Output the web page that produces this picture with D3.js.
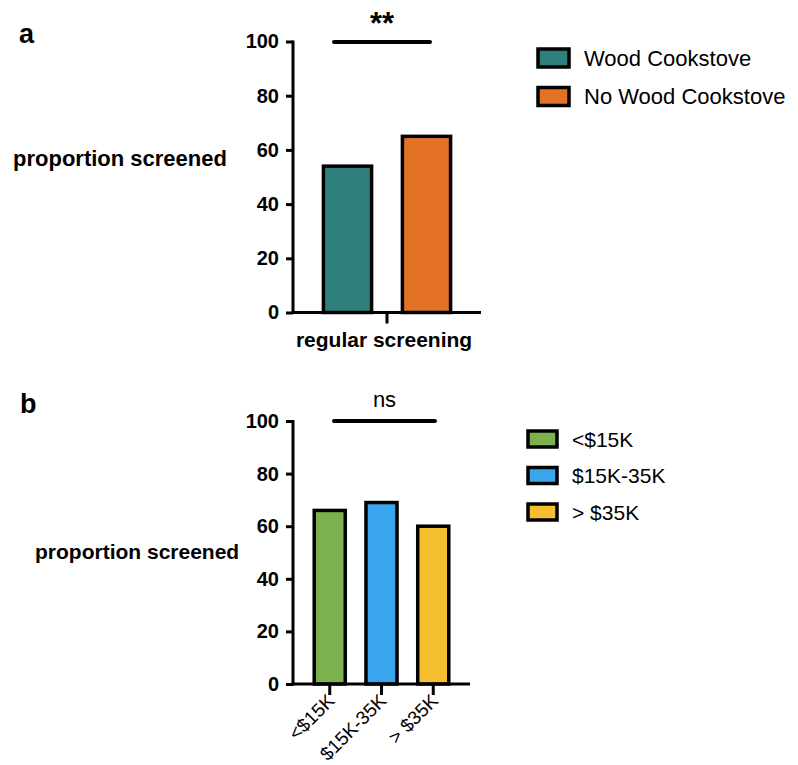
<!DOCTYPE html>
<html>
<head>
<meta charset="utf-8">
<script src="https://cdn.jsdelivr.net/npm/d3@7"></script>
<style>
  body { margin: 0; background: #fff; }
  svg { display: block; font-family: "Liberation Sans", Arial, Helvetica, sans-serif; }
</style>
</head>
<body>
<div id="chart"></div>
<script>
// panel a data
const aCategories = ["regular screening"];
const aSeries = ["Wood Cookstove", "No Wood Cookstove"];
const aValues = [54, 65];
const aColors = ["#2f7f7d", "#e37227"];
const aSignif = "**";

// panel b data
const bCategories = ["<$15K", "$15K-35K", "> $35K"];
const bValues = [66, 69, 60];
const bColors = ["#7bb14f", "#3aa5ec", "#f5bf30"];
const bSignif = "ns";

const yTicks = [0, 20, 40, 60, 80, 100];

const W = 798, H = 765;
const svg = d3.select("#chart").append("svg")
	.attr("width", W)
	.attr("height", H);

function yAxis(g, y) {
	const axis = d3.axisLeft(y).tickValues(yTicks).tickSize(7).tickPadding(7);
	g.call(axis);
	g.select(".domain").attr("stroke", "#000").attr("stroke-width", 3).attr("d", `M0,${y(0) + 1.5}V${y(100) - 1}`);
	g.selectAll(".tick line").attr("stroke", "#000").attr("stroke-width", 3);
	g.selectAll(".tick text")
		.attr("fill", "#000")
		.style("font-size", "20px")
		.style("font-weight", "bold");
}

function sigBar(g, x1, x2, yPos, label, labelY, size, weight) {
	g.append("line")
		.attr("x1", x1).attr("x2", x2)
		.attr("y1", yPos).attr("y2", yPos)
		.attr("stroke", "#000")
		.attr("stroke-width", 4)
		.attr("stroke-linecap", "round");
	g.append("text")
		.attr("x", (x1 + x2) / 2)
		.attr("y", labelY)
		.attr("text-anchor", "middle")
		.style("font-size", size)
		.style("font-weight", weight)
		.text(label);
}

function legend(g, labels, colors, x, y0, step, boxW, boxH, fontSize) {
	labels.forEach((d, i) => {
		const row = g.append("g").attr("transform", `translate(${x},${y0 + i * step})`);
		row.append("rect")
			.attr("width", boxW).attr("height", boxH)
			.attr("fill", colors[i])
			.attr("stroke", "#000")
			.attr("stroke-width", 3.5);
		row.append("text")
			.attr("x", boxW + 15)
			.attr("y", boxH / 2)
			.attr("dy", "0.36em")
			.style("font-size", fontSize)
			.text(d);
	});
}

// ---- panel a ----
(function panelA() {
	const g = svg.append("g");
	const y = d3.scaleLinear().domain([0, 100]).range([312.5, 41.5]);
	const x0 = d3.scaleBand().domain(aCategories).range([293, 481]).padding(0);
	const x1 = d3.scaleBand().domain(aSeries).range([0, x0.bandwidth()])
		.paddingInner(0.39).paddingOuter(0.385);

	g.append("text").attr("x", 19).attr("y", 43)
		.style("font-size", "27px").style("font-weight", "bold").text("a");
	g.append("text").attr("x", 13).attr("y", 166)
		.style("font-size", "22px").style("font-weight", "bold").text("proportion screened");

	const bars = g.append("g");
	aCategories.forEach(cat => {
		bars.selectAll(null)
			.data(aSeries.map((s, i) => ({ s, v: aValues[i], c: aColors[i] })))
			.join("rect")
			.attr("x", d => x0(cat) + x1(d.s))
			.attr("y", d => y(d.v))
			.attr("width", x1.bandwidth())
			.attr("height", d => y(0) - y(d.v))
			.attr("fill", d => d.c)
			.attr("stroke", "#000")
			.attr("stroke-width", 3.5);
	});

	g.append("g").attr("transform", "translate(293,0)").call(gg => yAxis(gg, y));

	const xg = g.append("g").attr("transform", `translate(0,${y(0)})`)
		.call(d3.axisBottom(x0).tickSize(11));
	xg.select(".domain").attr("stroke", "#000").attr("stroke-width", 3).attr("d", "M291.5,0H481");
	xg.selectAll(".tick line").attr("stroke", "#000").attr("stroke-width", 3);
	xg.selectAll(".tick text").attr("fill", "#000")
		.attr("x", -3).attr("y", 34).attr("dy", 0)
		.style("font-size", "21px").style("font-weight", "bold");

	sigBar(g, 334, 430, 42, aSignif, 34, "31px", "bold");
	legend(g, aSeries, aColors, 538, 49, 38.5, 31, 18, "22px");
})();

// ---- panel b ----
(function panelB() {
	const g = svg.append("g");
	const y = d3.scaleLinear().domain([0, 100]).range([684, 421]);
	const x = d3.scaleBand().domain(bCategories).range([293, 470])
		.paddingInner(0.4).paddingOuter(0.41);

	g.append("text").attr("x", 20).attr("y", 413)
		.style("font-size", "27px").style("font-weight", "bold").text("b");
	g.append("text").attr("x", 35).attr("y", 559)
		.style("font-size", "21px").style("font-weight", "bold").text("proportion screened");

	g.append("g").selectAll("rect")
		.data(bCategories.map((c, i) => ({ c, v: bValues[i], col: bColors[i] })))
		.join("rect")
		.attr("x", d => x(d.c))
		.attr("y", d => y(d.v))
		.attr("width", x.bandwidth())
		.attr("height", d => y(0) - y(d.v))
		.attr("fill", d => d.col)
		.attr("stroke", "#000")
		.attr("stroke-width", 3.5);

	g.append("g").attr("transform", "translate(293,0)").call(gg => yAxis(gg, y));

	const xg = g.append("g").attr("transform", `translate(0,${y(0)})`)
		.call(d3.axisBottom(x).tickSize(11).tickPadding(0));
	xg.select(".domain").attr("stroke", "#000").attr("stroke-width", 3).attr("d", "M291.5,0H470");
	xg.selectAll(".tick line").attr("stroke", "#000").attr("stroke-width", 3);
	xg.selectAll(".tick text").attr("fill", "#000")
		.attr("y", 0).attr("dy", 0)
		.attr("text-anchor", "end")
		.attr("transform", "translate(6,18) rotate(-45)")
		.style("font-size", "19px");

	sigBar(g, 334, 435, 421, bSignif, 407, "22px", "normal");
	legend(g, bCategories, bColors, 528, 431, 36.5, 29, 16, "21px");
})();
</script>
</body>
</html>
